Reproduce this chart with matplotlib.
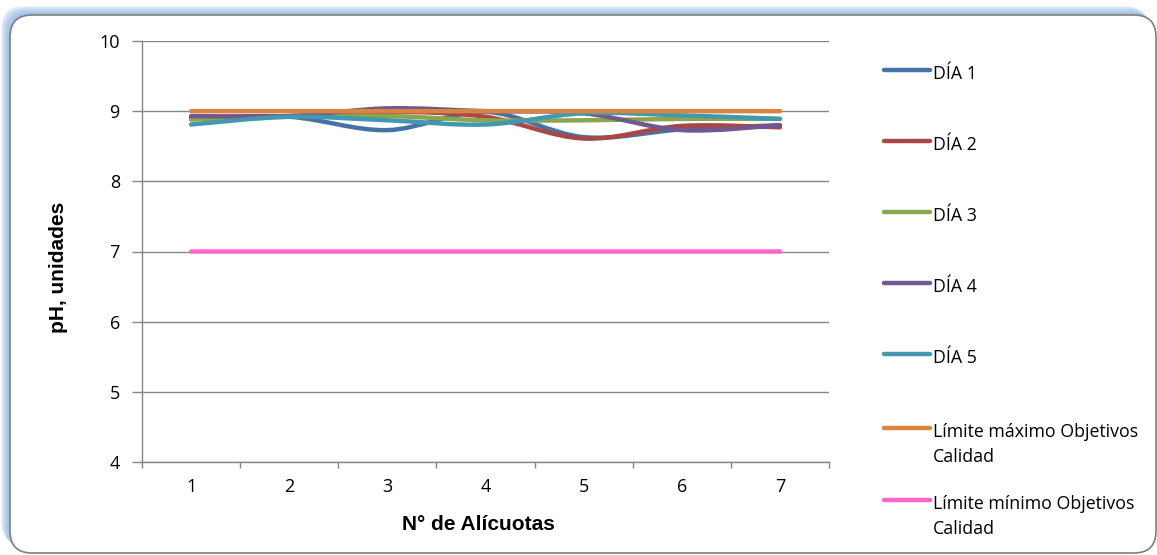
import numpy as np
import matplotlib
matplotlib.use('Agg')
import matplotlib.pyplot as plt
from matplotlib.path import Path
from matplotlib.patches import PathPatch, FancyBboxPatch
from matplotlib.lines import Line2D

# pH por alícuota para cada día de muestreo
alicuotas = [1, 2, 3, 4, 5, 6, 7]
dia_1 = [8.90, 8.92, 8.73, 8.99, 8.63, 8.74, 8.80]
dia_2 = [8.92, 8.93, 8.99, 8.92, 8.61, 8.79, 8.77]
dia_3 = [8.88, 8.92, 8.93, 8.87, 8.87, 8.89, 8.89]
dia_4 = [8.93, 8.93, 9.04, 9.00, 8.97, 8.73, 8.80]
dia_5 = [8.81, 8.92, 8.87, 8.81, 8.97, 8.94, 8.89]
lim_max = [9.0] * 7
lim_min = [7.0] * 7

nombres = ['DÍA 1', 'DÍA 2', 'DÍA 3', 'DÍA 4', 'DÍA 5',
           'Límite máximo Objetivos\nCalidad',
           'Límite mínimo Objetivos\nCalidad']
series = [dia_1, dia_2, dia_3, dia_4, dia_5, lim_max, lim_min]
colores = ['#4572A7', '#AA4643', '#89A54E', '#71588F', '#4198AF',
           '#DB843D', '#FF66CC']

W, H = 1157, 555
fig = plt.figure(figsize=(W / 100, H / 100), dpi=100)

# marco redondeado con halo azul arriba/izquierda
bg = fig.add_axes([0, 0, 1, 1], zorder=-5)
bg.set_xlim(0, W)
bg.set_ylim(H, 0)
bg.axis('off')
caja = (10, 15, 1146, 538)
for k in range(1, 10):
    bg.add_patch(FancyBboxPatch((caja[0] - k, caja[1] - k), caja[2], caja[3],
                                boxstyle='round,pad=0,rounding_size=22',
                                fc='#8DB4E2', ec='none', alpha=0.16))
bg.add_patch(FancyBboxPatch(caja[:2], caja[2], caja[3],
                            boxstyle='round,pad=0,rounding_size=22',
                            fc='white', ec='#7F7F7F', lw=1.2))

ax = fig.add_axes([142 / W, 93 / H, 687 / W, 421 / H])
ax.set_facecolor('none')


def curva_suave(xs, ys):
    # trazo suavizado con segmentos Bezier cúbicos
    pts = np.column_stack([xs, ys]).astype(float)
    n = len(pts)
    verts = [pts[0]]
    codes = [Path.MOVETO]
    for i in range(n - 1):
        p0 = pts[max(i - 1, 0)]
        p1 = pts[i]
        p2 = pts[i + 1]
        p3 = pts[min(i + 2, n - 1)]
        c1 = p1 + (p2 - p0) / 6
        c2 = p2 - (p3 - p1) / 6
        verts += [c1, c2, p2]
        codes += [Path.CURVE4] * 3
    return Path(verts, codes)


for ys, c in zip(series, colores):
    ax.add_patch(PathPatch(curva_suave(alicuotas, ys), fc='none', ec=c,
                           lw=3.2, capstyle='round', joinstyle='round',
                           zorder=3))

ax.set_xlim(0.5, 7.5)
ax.set_ylim(4, 10)
ax.set_yticks(range(4, 11))
ax.set_xticks(alicuotas)
ax.set_xticks(np.arange(0.5, 8, 1), minor=True)
ax.grid(axis='y', color='#868686', lw=1.0, zorder=1)
for s in ['top', 'right']:
    ax.spines[s].set_visible(False)
for s in ['left', 'bottom']:
    ax.spines[s].set_color('#868686')
    ax.spines[s].set_linewidth(1.0)
ax.tick_params(axis='y', direction='out', length=7, width=1.0,
               color='#868686', pad=9, labelsize=13)
ax.tick_params(axis='x', which='major', length=0, pad=11.5, labelsize=13)
ax.tick_params(axis='x', which='minor', direction='out', length=4,
               width=1.0, color='#868686')
for lab in ax.get_xticklabels() + ax.get_yticklabels():
    lab.set_fontfamily('Open Sans')

ax.set_xlabel('N° de Alícuotas', fontsize=15, fontweight='bold',
              fontfamily='Liberation Sans')
ax.set_ylabel('pH, unidades', fontsize=15, fontweight='bold',
              fontfamily='Liberation Sans')
ax.xaxis.set_label_coords((478 - 142) / 687, (462 - 524.5) / 421)
ax.xaxis.label.set_va('center')
ax.yaxis.set_label_coords((58 - 142) / 687, (462 - 267) / 421)
ax.yaxis.label.set_va('center')

# leyenda a la derecha
leg_y = [70, 141, 212, 283, 354, 428, 500]
for nombre, c, yy in zip(nombres, colores, leg_y):
    yf = 1 - yy / H
    fig.add_artist(Line2D([884 / W, 930 / W], [yf, yf], color=c, lw=3.2,
                          solid_capstyle='round'))
    for j, linea in enumerate(nombre.split('\n')):
        fig.text(933 / W, 1 - (yy + 9 + 25 * j) / H, linea, ha='left',
                 va='baseline', fontsize=12.8, fontfamily='Open Sans')

fig.savefig('out.png', dpi=100)
